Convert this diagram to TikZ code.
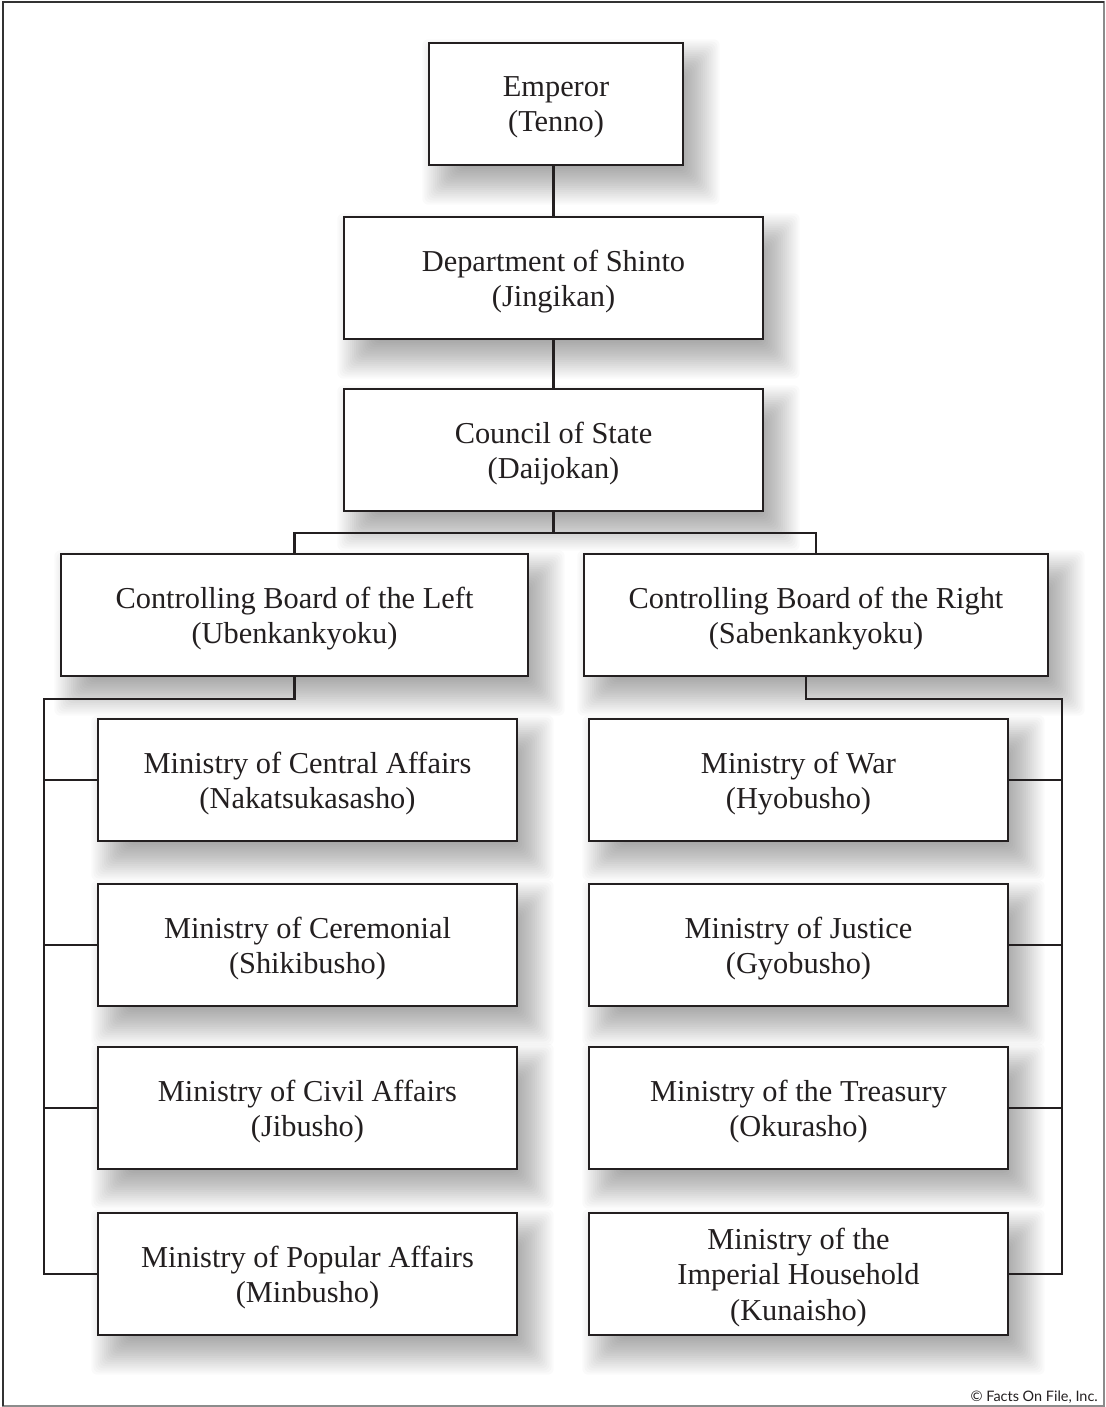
\documentclass[tikz,border=0pt]{standalone}
\usepackage{fontspec}
\setmainfont{Liberation Serif}
\newfontfamily\creditfont{Lato}
\definecolor{ink}{HTML}{231F20}
\pgfdeclarelayer{paper}
\pgfdeclarelayer{shade}
\pgfsetlayers{paper,shade,main}
% soft drop shadow built from stacked translucent rectangles
\newcommand\castshadow[1]{%
  \foreach \k in {0,...,19}{%
    \pgfmathsetmacro\ex{21-2.1*\k}%
    \pgfmathsetmacro\xa{15-\ex}%
    \pgfmathsetmacro\ya{-18+\ex}%
    \pgfmathsetmacro\xb{15+\ex}%
    \pgfmathsetmacro\yb{-18-\ex}%
    \fill[black, opacity=0.02, rounded corners=6bp]
      ([xshift=\xa bp, yshift=\ya bp]#1.north west) rectangle
      ([xshift=\xb bp, yshift=\yb bp]#1.south east);
  }}
\begin{document}
\begin{tikzpicture}[x=1bp,y=-1bp,
  orgbox/.style={draw=ink, line width=1.4bp, fill=white, align=center,
    inner sep=0pt, minimum height=122bp, text=ink,
    font=\fontsize{30.5}{35.5}\selectfont, text depth=-4bp},
  ministry/.style={orgbox, minimum width=419bp},
  link/.style={draw=ink, line width=2.1bp}]
\useasboundingbox (0,0) rectangle (1105,1407);

\begin{pgfonlayer}{paper}
\fill[white] (0,0) rectangle (1105,1407);
% outer frame
\draw[black!45, line width=1.5bp] (3,2) rectangle (1104,1406);
\draw[black!80, line width=2.4bp] (3,1406) -- (3,2) -- (1104,2);
\end{pgfonlayer}

% top of the hierarchy
\node[orgbox, minimum width=254bp] (emp) at (556,104) {Emperor\\(Tenno)};
\node[orgbox, minimum width=419bp] (shinto) at (553.5,278) {Department of Shinto\\(Jingikan)};
\node[orgbox, minimum width=419bp] (council) at (553.5,450) {Council of State\\(Daijokan)};

% controlling boards
\node[orgbox, minimum width=467bp] (lb) at (294.5,615) {Controlling Board of the Left\\(Ubenkankyoku)};
\node[orgbox, minimum width=464bp] (rb) at (816,615) {Controlling Board of the Right\\(Sabenkankyoku)};

% ministries under the left board
\node[ministry] (lm1) at (307.5,780) {Ministry of Central Affairs\\(Nakatsukasasho)};
\node[ministry] (lm2) at (307.5,945) {Ministry of Ceremonial\\(Shikibusho)};
\node[ministry] (lm3) at (307.5,1108) {Ministry of Civil Affairs\\(Jibusho)};
\node[ministry] (lm4) at (307.5,1274) {Ministry of Popular Affairs\\(Minbusho)};

% ministries under the right board
\node[ministry] (rm1) at (798.5,780) {Ministry of War\\(Hyobusho)};
\node[ministry] (rm2) at (798.5,945) {Ministry of Justice\\(Gyobusho)};
\node[ministry] (rm3) at (798.5,1108) {Ministry of the Treasury\\(Okurasho)};
\node[ministry] (rm4) at (798.5,1274) {Ministry of the\\Imperial Household\\(Kunaisho)};

% shadows behind every box
\begin{pgfonlayer}{shade}
\foreach \b in {emp,shinto,council,lb,rb,lm1,lm2,lm3,lm4,rm1,rm2,rm3,rm4}
  {\castshadow{\b}}
\end{pgfonlayer}

% connectors
\coordinate (bus) at (0,533);
\coordinate (lspine) at (44,0);
\coordinate (rspine) at (1062,0);

\draw[link] (shinto.north |- emp.south) -- (shinto.north);
\draw[link] (shinto.south) -- (council.north);
\draw[link] (council.south) -- (council.south |- bus);
\draw[link] (lb.north) -- (lb.north |- bus) -| (rb.north);

\draw[link] (lb.south) -- ++(0,22) -| (lspine |- lm4.west) -- (lm4.west);
\foreach \m in {lm1,lm2,lm3}
  \draw[link] (lspine |- \m.west) -- (\m.west);

\draw[link] ([xshift=-10bp]rb.south) -- ++(0,22) -| (rspine |- rm4.east) -- (rm4.east);
\foreach \m in {rm1,rm2,rm3}
  \draw[link] (rspine |- \m.east) -- (\m.east);

% credit line
\node[anchor=base east, inner sep=0pt, text=ink,
  font=\creditfont\fontsize{14.5}{16}\selectfont] (credit) at (1098,1401)
  {© Facts On File, Inc.};
\end{tikzpicture}
\end{document}
